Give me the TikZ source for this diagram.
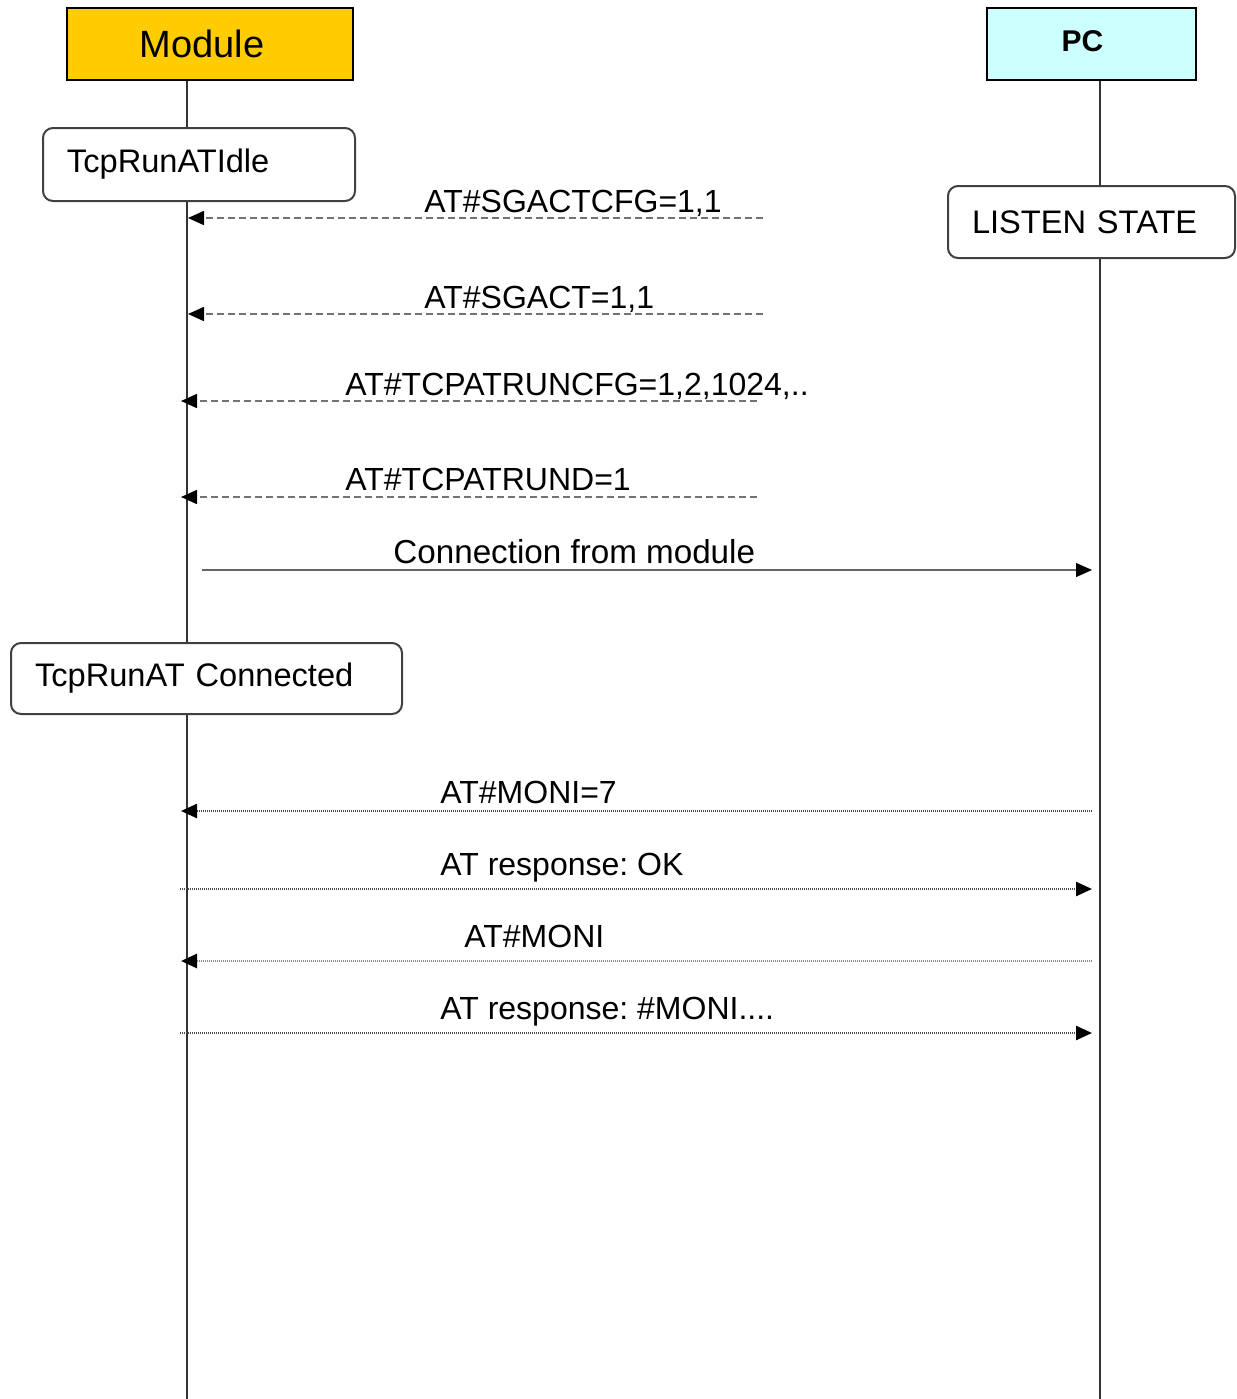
\documentclass[tikz,border=0pt]{standalone}
\usepackage{fontspec}
\setmainfont{Liberation Sans}
\usetikzlibrary{arrows.meta}
\definecolor{modulefill}{RGB}{255,204,0}
\definecolor{pcfill}{RGB}{204,255,255}
\frenchspacing

\begin{document}
\begin{tikzpicture}[x=0.5pt,y=-0.5pt,
	every node/.style={inner sep=0pt},
	actor/.style={draw=black,line width=1pt,minimum height=36pt},
	state/.style={draw=black!75,line width=1pt,rounded corners=5pt,fill=white,
		minimum height=36pt,inner xsep=12pt,align=left,font=\fontsize{16.3}{19}\selectfont},
	life/.style={draw=black!80,line width=1pt},
	msg/.style={anchor=base west,font=\fontsize{16}{19}\selectfont},
	tip/.style={-{Triangle[length=8pt,width=7pt,color=black]}},
	cmd/.style={draw=black!55,line width=0.8pt,dash pattern=on 3.5pt off 2pt,tip},
	link/.style={draw=black!60,line width=0.6pt,tip},
	dots/.style={draw=black!70,line width=1.2pt,dash pattern=on 0.5pt off 0.5pt,tip},
	faint/.style={draw=black!45,line width=1.4pt,dash pattern=on 0.5pt off 0.5pt,tip}]
	\useasboundingbox (0,0) rectangle (1237,1399);
	\node[actor,fill=modulefill,minimum width=143pt,font=\fontsize{19}{22}\selectfont] (module) at (210,44) {\hspace*{-8pt}Module};
	\node[actor,fill=pcfill,minimum width=104.5pt,font=\fontsize{15}{18}\bfseries] (pc) at (1091.5,44) {\raisebox{3pt}{PC}\hspace*{9pt}};
	\coordinate (mbot) at (187,1399);
	\coordinate (pbot) at (1100,1399);
	\draw[life] (module.south -| mbot) -- (mbot);
	\draw[life] (pc.south -| pbot) -- (pbot);
	\node[state,text width=132pt,minimum height=36.5pt] (idle) at (199,164.5) {TcpRunATIdle};
	\node[state,text width=119.5pt] (listen) at (1091.5,222) {LISTEN STATE};
	\node[state,text width=171.5pt,minimum height=35.5pt] (conn) at (206.5,678.5) {TcpRunAT Connected};
	\coordinate (cfg-a) at (763,218);
	\coordinate (cfg-b) at (188,218);
	\draw[cmd] (cfg-a) -- (cfg-b);
	\node[msg] (cfg) at (424,212) {AT\#SGACTCFG=1,1};
	\coordinate (act-a) at (763,314);
	\coordinate (act-b) at (188,314);
	\draw[cmd] (act-a) -- (act-b);
	\node[msg] (act) at (424,308) {AT\#SGACT=1,1};
	\coordinate (runcfg-a) at (757,401);
	\coordinate (runcfg-b) at (181,401);
	\draw[cmd] (runcfg-a) -- (runcfg-b);
	\node[msg] (runcfg) at (345,395) {AT\#TCPATRUNCFG=1,2,1024,..};
	\coordinate (rund-a) at (757,497);
	\coordinate (rund-b) at (181,497);
	\draw[cmd] (rund-a) -- (rund-b);
	\node[msg] (rund) at (345,490) {AT\#TCPATRUND=1};
	\coordinate (con-a) at (202,570);
	\coordinate (con-b) at (1092,570);
	\draw[link] (con-a) -- (con-b);
	\node[msg,font=\fontsize{16.6}{19}\selectfont] (con) at (393,563) {Connection from module};
	\coordinate (moni7-a) at (1092,811);
	\coordinate (moni7-b) at (181,811);
	\draw[dots] (moni7-a) -- (moni7-b);
	\node[msg] (moni7) at (440,803) {AT\#MONI=7};
	\coordinate (ok-a) at (180,889);
	\coordinate (ok-b) at (1092,889);
	\draw[dots] (ok-a) -- (ok-b);
	\node[msg] (ok) at (440,875) {AT response: OK};
	\coordinate (moni-a) at (1092,961);
	\coordinate (moni-b) at (181,961);
	\draw[faint] (moni-a) -- (moni-b);
	\node[msg] (moni) at (464,947) {AT\#MONI};
	\coordinate (res-a) at (180,1033);
	\coordinate (res-b) at (1092,1033);
	\draw[dots] (res-a) -- (res-b);
	\node[msg] (res) at (440,1019) {AT response: \#MONI....};
\end{tikzpicture}
\end{document}
